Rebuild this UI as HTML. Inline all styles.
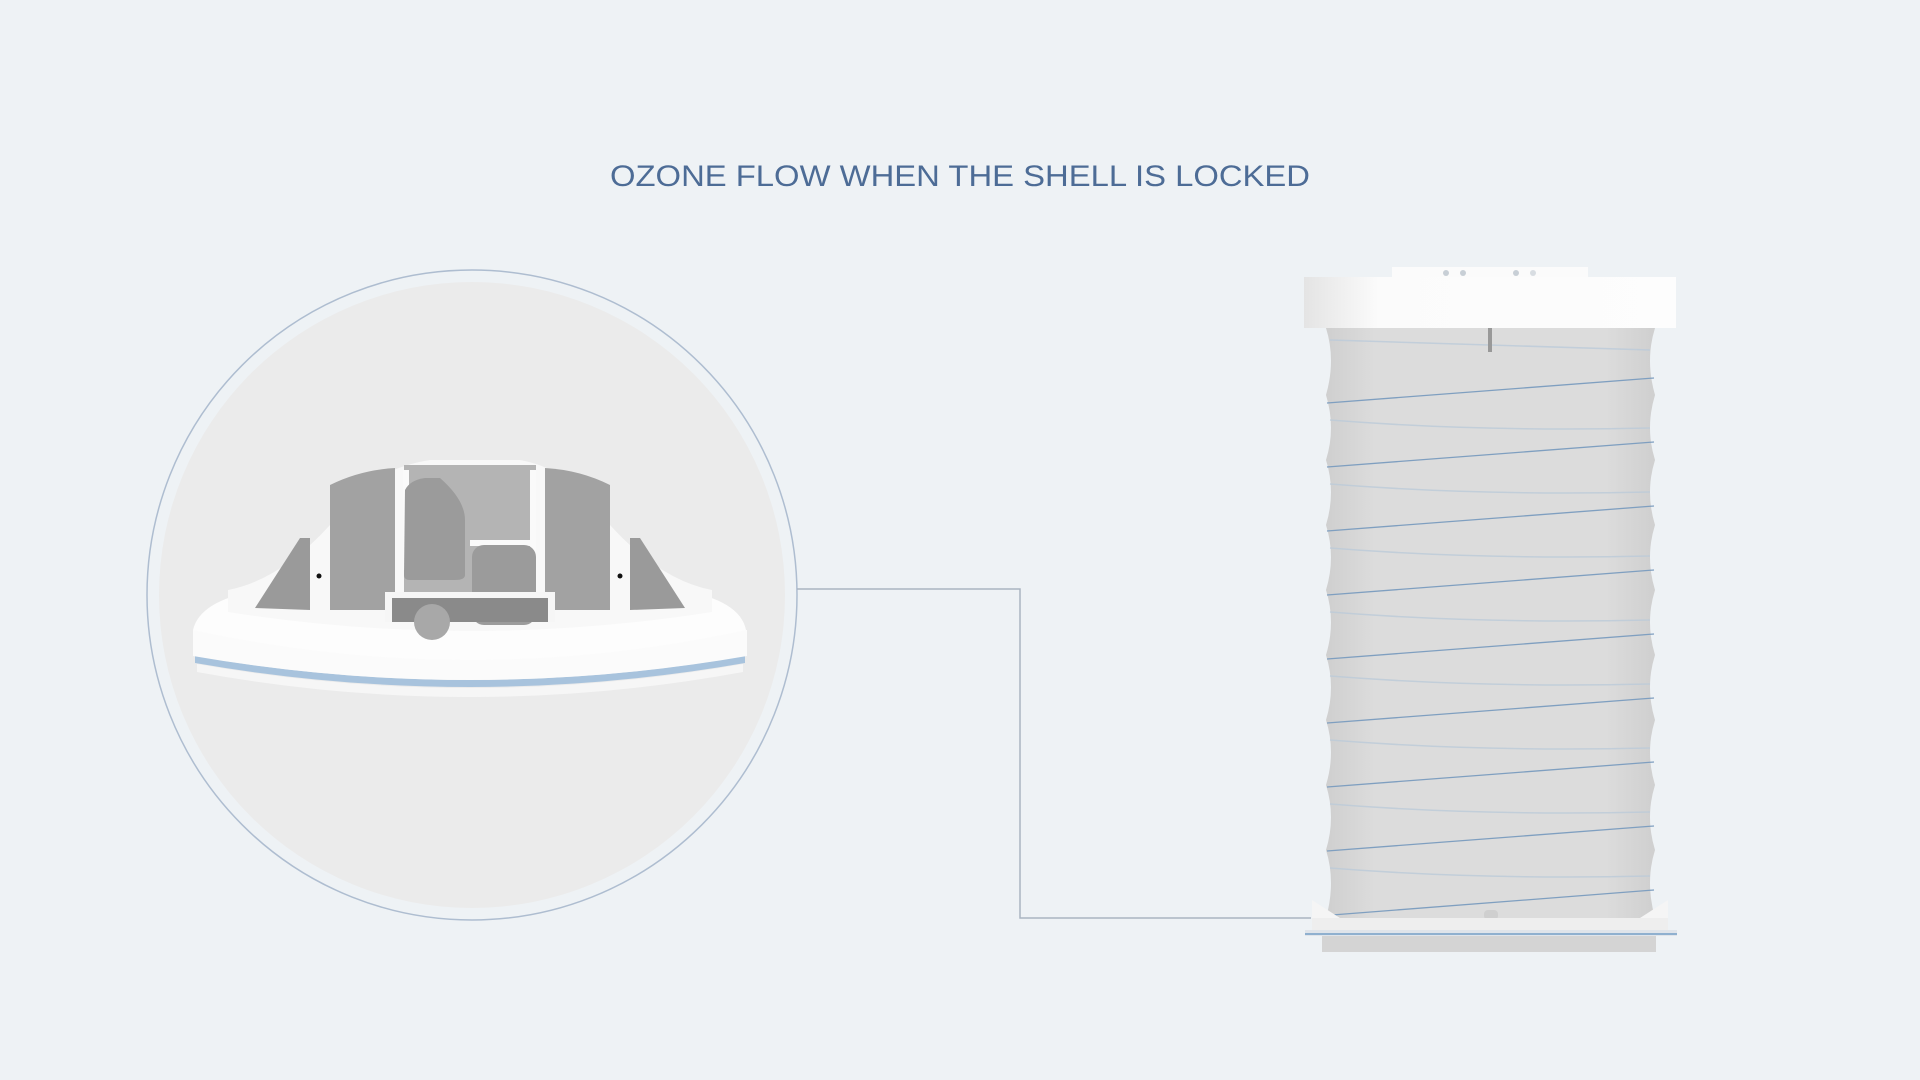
<!DOCTYPE html>
<html><head><meta charset="utf-8"><style>
html,body{margin:0;padding:0;background:#eef2f5;}
svg{display:block}
</style></head><body>
<svg width="1920" height="1080" viewBox="0 0 1920 1080" xmlns="http://www.w3.org/2000/svg">
<defs>
<linearGradient id="body" x1="0" x2="1"><stop offset="0" stop-color="#cfcfcf"/><stop offset="0.15" stop-color="#dcdcdc"/><stop offset="0.85" stop-color="#dcdcdc"/><stop offset="1" stop-color="#cfcfcf"/></linearGradient>
<linearGradient id="cap" x1="0" x2="1"><stop offset="0" stop-color="#e4e4e4"/><stop offset="0.2" stop-color="#fbfbfb"/><stop offset="1" stop-color="#fdfdfd"/></linearGradient>
</defs>
<rect width="1920" height="1080" fill="#eef2f5"/>
<text x="610" y="186" font-family="Liberation Sans, sans-serif" font-size="30" fill="#4d6c96" textLength="700" lengthAdjust="spacingAndGlyphs">OZONE FLOW WHEN THE SHELL IS LOCKED</text>

<circle cx="472" cy="595" r="325" fill="#eef2f5" stroke="#aebdd0" stroke-width="1.5"/>
<circle cx="472" cy="595" r="313" fill="#ebebeb"/>

<!-- dome device -->
<path d="M197 664 Q470 712 743 664 L743 672 Q470 722 197 672Z" fill="#f6f6f6"/>
<path d="M195 656 Q470 704 745 656 L745 663 Q470 711 195 663Z" fill="#a8c3dd"/>
<path d="M193 630 L193 656 Q470 704 747 656 L747 630Z" fill="#fbfbfb"/>
<path d="M193 630 Q200 600 260 590 L680 590 Q740 600 746 630 Q470 690 193 630Z" fill="#fdfdfd"/>
<path d="M228 612 L228 590 Q280 580 330 525 Q365 470 430 460 L520 460 Q575 470 610 525 Q660 580 712 590 L712 612 Q470 650 228 612Z" fill="#f8f8f8"/>
<path d="M255 608 L300 538 L310 538 L310 610Z" fill="#9a9a9a"/>
<path d="M330 610 L330 485 Q360 470 395 468 L395 610Z" fill="#a2a2a2"/>
<path d="M545 610 L545 468 Q580 470 610 485 L610 610Z" fill="#a2a2a2"/>
<path d="M630 538 L640 538 L685 608 L630 610Z" fill="#9a9a9a"/>
<rect x="404" y="465" width="132" height="148" fill="#b4b4b4"/>
<rect x="403" y="470" width="6" height="100" fill="#fafafa"/>
<rect x="530" y="470" width="6" height="130" fill="#fafafa"/>
<rect x="470" y="540" width="64" height="6" fill="#fafafa"/>
<path d="M405 490 Q410 480 425 478 L440 478 Q465 500 465 520 L465 575 Q465 580 455 580 L410 580 Q404 580 404 575Z" fill="#9b9b9b"/>
<rect x="472" y="545" width="64" height="80" rx="12" fill="#9b9b9b"/>
<rect x="385" y="592" width="170" height="30" fill="#f6f6f6"/>
<rect x="392" y="598" width="156" height="24" fill="#8a8a8a"/>
<circle cx="432" cy="622" r="18" fill="#a8a8a8"/>
<circle cx="319" cy="576" r="2.5" fill="#111"/>
<circle cx="620" cy="576" r="2.5" fill="#111"/>

<polyline points="797,589 1020,589 1020,918 1311,918" fill="none" stroke="#aab4c2" stroke-width="1.5"/>

<!-- cylinder -->
<path d="M1326 328 L1655 328 Q1645 360 1655 395 Q1645 428 1655 460 Q1645 492 1655 525 Q1645 557 1655 590 Q1645 622 1655 655 Q1645 687 1655 720 Q1645 752 1655 785 Q1645 817 1655 850 Q1645 882 1655 918 L1326 918 Q1336 882 1326 850 Q1336 817 1326 785 Q1336 752 1326 720 Q1336 687 1326 655 Q1336 622 1326 590 Q1336 557 1326 525 Q1336 492 1326 460 Q1336 428 1326 395 Q1336 360 1326 328Z" fill="url(#body)"/>
<g stroke="#7f9fc0" stroke-width="1.3" fill="none">
<line x1="1327" y1="403" x2="1654" y2="378"/>
<line x1="1327" y1="467" x2="1654" y2="442"/>
<line x1="1327" y1="531" x2="1654" y2="506"/>
<line x1="1327" y1="595" x2="1654" y2="570"/>
<line x1="1327" y1="659" x2="1654" y2="634"/>
<line x1="1327" y1="723" x2="1654" y2="698"/>
<line x1="1327" y1="787" x2="1654" y2="762"/>
<line x1="1327" y1="851" x2="1654" y2="826"/>
<line x1="1332" y1="915" x2="1654" y2="890"/>
</g>
<g stroke="#bccbd9" stroke-width="1.5" fill="none" opacity="0.8">
<path d="M1330 340 Q1480 345 1650 350"/><path d="M1330 420 Q1480 432 1650 428"/>
<path d="M1330 484 Q1480 496 1650 492"/><path d="M1330 548 Q1480 560 1650 556"/>
<path d="M1330 612 Q1480 624 1650 620"/><path d="M1330 676 Q1480 688 1650 684"/>
<path d="M1330 740 Q1480 752 1650 748"/><path d="M1330 804 Q1480 816 1650 812"/>
<path d="M1330 868 Q1480 880 1650 876"/>
</g>
<rect x="1488" y="328" width="4" height="24" fill="#999"/>
<rect x="1392" y="267" width="196" height="12" fill="#fbfbfb"/>
<rect x="1304" y="277" width="372" height="51" fill="url(#cap)"/>
<circle cx="1446" cy="273" r="3" fill="#c8cfd6"/><circle cx="1463" cy="273" r="3" fill="#c8cfd6"/>
<circle cx="1516" cy="273" r="3" fill="#c8cfd6"/><circle cx="1533" cy="273" r="3" fill="#d8dde2"/>
<path d="M1312 900 L1312 918 L1340 918Z" fill="#f5f5f5"/>
<path d="M1668 900 L1668 918 L1640 918Z" fill="#f5f5f5"/>
<rect x="1484" y="910" width="14" height="10" rx="4" fill="#cfcfcf"/>
<rect x="1305" y="930" width="372" height="6" fill="#dfe4ea"/>
<rect x="1305" y="933" width="372" height="2" fill="#8fb0cf"/>
<rect x="1322" y="936" width="334" height="16" fill="#d4d4d4"/>
<rect x="1312" y="918" width="356" height="12" fill="#eeeeee"/>
</svg>
</body></html>
